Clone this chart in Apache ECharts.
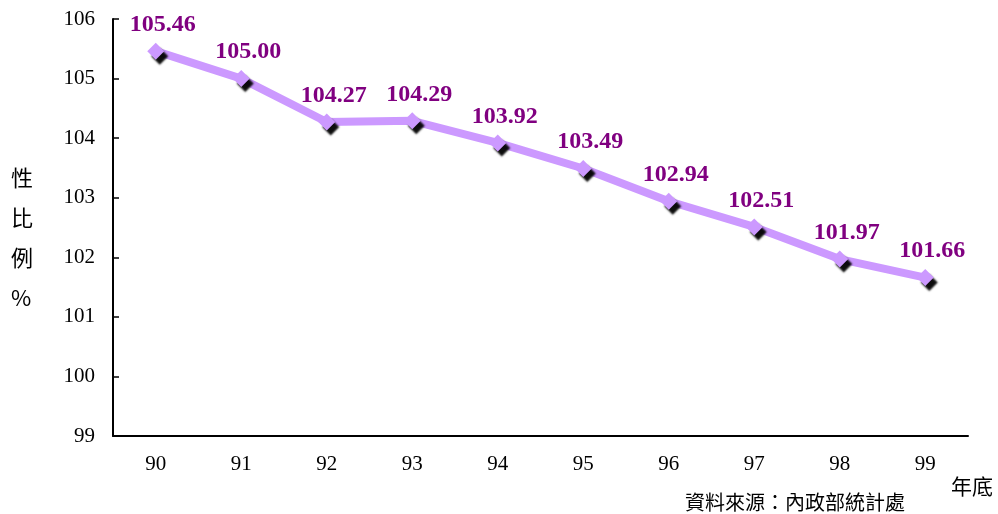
<!DOCTYPE html>
<html><head><meta charset="utf-8">
<script src="https://cdn.jsdelivr.net/npm/echarts@6/dist/echarts.min.js"></script>
<style>html,body{margin:0;padding:0;background:#fff}#c{width:998px;height:514px}</style>
</head><body><div id="c"></div>
<script>
const categories = ['90','91','92','93','94','95','96','97','98','99'];
const sexRatio = [105.46, 105.00, 104.27, 104.29, 103.92, 103.49, 102.94, 102.51, 101.97, 101.66];
const yTicks = [99, 100, 101, 102, 103, 104, 105, 106];
const yTitle = '性\n比\n例\n%';
const xUnit = '年底';
const sourceNote = '資料來源：內政部統計處';

const serif = '"Liberation Serif","Times New Roman",serif';
const cjk = '"Noto Sans CJK TC","Noto Sans CJK SC",sans-serif';
const chart = echarts.init(document.getElementById('c'));
chart.setOption({
  animation: false,
  grid: {left: 113, right: 30, top: 19, bottom: 78},
  xAxis: {
    type: 'category', data: categories, boundaryGap: true,
    axisLine: {lineStyle: {color: '#000', width: 2}},
    axisTick: {inside: true, length: 6, lineStyle: {color: '#000', width: 1.5}},
    axisLabel: {color: '#000', fontFamily: serif, fontSize: 21, margin: 18}
  },
  yAxis: {
    type: 'value', min: yTicks[0], max: yTicks[yTicks.length-1], interval: 1,
    splitLine: {show: false},
    axisLine: {show: true, lineStyle: {color: '#000', width: 2}},
    axisTick: {show: true, inside: true, length: 6, lineStyle: {color: '#000', width: 1.5}},
    axisLabel: {color: '#000', fontFamily: serif, fontSize: 21, margin: 18}
  },
  graphic: [
    {type: 'text', left: 11, top: 158, style: {text: yTitle, font: '22px ' + cjk, fill: '#000', lineHeight: 40, textAlign: 'left'}},
    {type: 'text', left: 951, top: 476, style: {text: xUnit, font: '21px ' + cjk, fill: '#000'}},
    {type: 'text', left: 685, top: 492, style: {text: sourceNote, font: '20px ' + cjk, fill: '#000'}}
  ],
  series: [{
    type: 'line', data: sexRatio,
    symbol: 'diamond', symbolSize: 17,
    lineStyle: {color: '#CC99FF', width: 8},
    itemStyle: {color: '#CC99FF', shadowColor: 'rgba(0,0,0,0.95)', shadowOffsetX: 4, shadowOffsetY: 5, shadowBlur: 2},
    label: {show: true, position: 'top', distance: 3, offset: [7, -3],
      formatter: p => p.value.toFixed(2),
      color: '#800080', fontFamily: serif, fontWeight: 'bold', fontSize: 24}
  }]
});
</script></body></html>
